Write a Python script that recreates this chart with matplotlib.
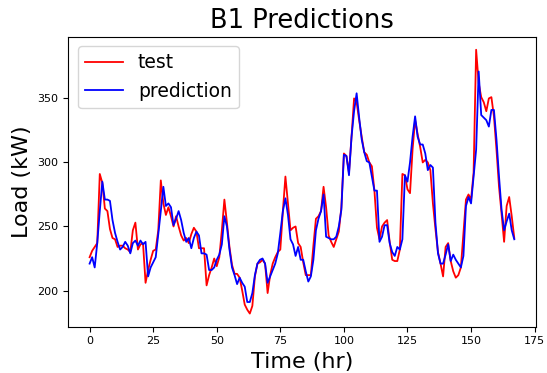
import numpy as np
import matplotlib
matplotlib.use("Agg")
import matplotlib.pyplot as plt

title = "B1 Predictions"
x_label = "Time (hr)"
y_label = "Load (kW)"
series_names = ["test", "prediction"]

test_values = [
    226, 231, 234, 237, 291, 284, 264, 262, 248, 241,
    240, 234, 235, 235, 233, 232, 230, 247, 253, 232,
    236, 237, 206, 216, 224, 231, 232, 247, 286, 268,
    259, 265, 258, 250, 258, 250, 243, 239, 241, 237,
    244, 249, 246, 233, 233, 233, 204, 212, 218, 225,
    219, 226, 247, 271, 253, 234, 220, 213, 213, 210,
    200, 189, 185, 182, 188, 211, 221, 222, 224, 221,
    198, 212, 221, 226, 230, 232, 262, 289, 268, 247,
    249, 250, 237, 234, 222, 212, 212, 212, 235, 256,
    258, 262, 281, 265, 243, 238, 234, 240, 246, 265,
    307, 305, 292, 320, 350, 347, 333, 320, 308, 306,
    300, 297, 278, 249, 240, 250, 253, 255, 238, 224,
    223, 223, 232, 291, 290, 279, 276, 310, 333, 322,
    312, 300, 302, 300, 294, 268, 248, 230, 221, 211,
    234, 237, 223, 215, 210, 212, 218, 245, 271, 275,
    271, 292, 388, 362, 351, 347, 340, 350, 351, 336,
    310, 281, 260, 238, 266, 273, 258, 241,
]

prediction_values = [
    221, 226, 218, 237, 262, 285, 271, 271, 270, 255,
    245, 238, 232, 234, 238, 235, 229, 237, 239, 235,
    239, 236, 238, 211, 218, 222, 226, 244, 262, 281,
    266, 268, 265, 251, 256, 262, 255, 245, 238, 241,
    233, 241, 246, 243, 229, 229, 228, 216, 216, 218,
    224, 228, 236, 258, 250, 232, 218, 212, 205, 210,
    206, 203, 191, 191, 198, 212, 221, 224, 225, 221,
    206, 211, 216, 221, 229, 245, 262, 272, 259, 240,
    236, 227, 234, 224, 224, 215, 207, 211, 224, 247,
    256, 262, 275, 242, 241, 240, 240, 242, 250, 263,
    306, 305, 290, 320, 340, 354, 335, 318, 308, 301,
    300, 289, 278, 278, 238, 242, 251, 251, 237, 230,
    227, 234, 232, 240, 290, 285, 300, 320, 336, 320,
    314, 314, 307, 294, 298, 296, 253, 229, 221, 221,
    228, 236, 223, 228, 224, 221, 218, 227, 266, 273,
    268, 289, 310, 371, 337, 335, 333, 328, 341, 341,
    318, 289, 263, 247, 254, 260, 247, 240,
]

n = min(len(test_values), len(prediction_values))
hours = np.arange(n)

fig = plt.figure(figsize=(5.47, 3.73), dpi=100)
ax = fig.add_axes([0.125, 0.124, 0.854, 0.778])
ax.plot(hours, test_values[:n], color="red", linewidth=1.3, label=series_names[0])
ax.plot(hours, prediction_values[:n], color="blue", linewidth=1.3, label=series_names[1])
ax.set_title(title, fontsize=18.5)
ax.set_xlabel(x_label, fontsize=16)
ax.set_ylabel(y_label, fontsize=16)
ax.tick_params(labelsize=8)
ax.set_xticks([0, 25, 50, 75, 100, 125, 150, 175])
ax.set_yticks([200, 250, 300, 350])
ax.legend(loc="upper left", fontsize=13.5)
fig.savefig("out.png", dpi=100)
